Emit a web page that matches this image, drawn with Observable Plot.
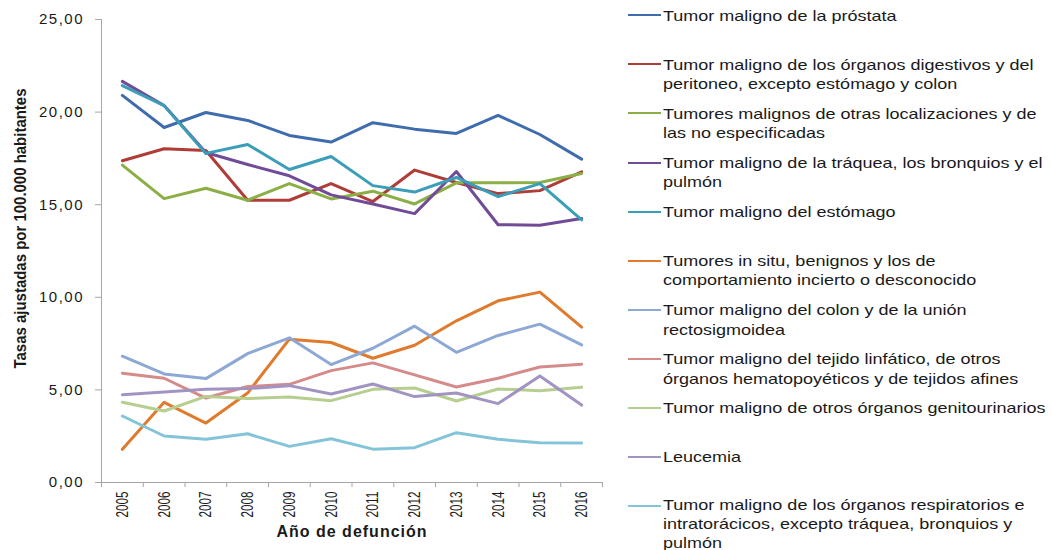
<!DOCTYPE html>
<html><head><meta charset="utf-8">
<script src="https://cdn.jsdelivr.net/npm/d3@7"></script>
<script src="https://cdn.jsdelivr.net/npm/@observablehq/plot@0.6"></script>
<style>
body{margin:0;background:#fff;font-family:"Liberation Sans",Arial,sans-serif;}
#wrap{position:relative;width:1052px;height:550px;overflow:hidden;background:#fff;}
#chart{position:absolute;left:0;top:0;}
#legend{position:absolute;left:628px;top:5.5px;}
.entry{position:relative;height:49.1px;}
.swatch{position:absolute;left:0;top:8.75px;width:33px;height:2px;}
.lab{position:absolute;left:35px;top:0;white-space:pre;font-size:15px;line-height:19.5px;color:#1a1a1a;transform:scaleX(1.2);transform-origin:0 0;}
.entry.last .lab{line-height:18.6px;}
g[aria-label="y-axis tick label"]{letter-spacing:1.5px;}
</style></head>
<body><div id="wrap"><div id="chart"></div><div id="legend"></div></div>
<script>
const years = [2005, 2006, 2007, 2008, 2009, 2010, 2011, 2012, 2013, 2014, 2015, 2016];
const seriesNames = [
  "Tumor maligno de la próstata",
  "Tumor maligno de los órganos digestivos y del\nperitoneo, excepto estómago y colon",
  "Tumores malignos de otras localizaciones y de\nlas no especificadas",
  "Tumor maligno de la tráquea, los bronquios y el\npulmón",
  "Tumor maligno del estómago",
  "Tumores in situ, benignos y los de\ncomportamiento incierto o desconocido",
  "Tumor maligno del colon y de la unión\nrectosigmoidea",
  "Tumor maligno del tejido linfático, de otros\nórganos hematopoyéticos y de tejidos afines",
  "Tumor maligno de otros órganos genitourinarios",
  "Leucemia",
  "Tumor maligno de los órganos respiratorios e\nintratorácicos, excepto tráquea, bronquios y\npulmón"
];
const seriesColors = ["#3f6cac", "#b03c38", "#8bae45", "#6f4b98", "#3a9eb8", "#e07a2c",
  "#8ea8d6", "#d48b8a", "#b6ce8f", "#a294c2", "#84c4d8"];

const prostata     = [20.90, 19.17, 19.98, 19.55, 18.74, 18.38, 19.43, 19.08, 18.85, 19.82, 18.79, 17.46];
const digestivos   = [17.37, 18.02, 17.93, 15.24, 15.24, 16.14, 15.17, 16.87, 16.20, 15.60, 15.76, 16.77];
const otrasLocal   = [17.14, 15.33, 15.89, 15.24, 16.14, 15.31, 15.73, 15.04, 16.18, 16.18, 16.20, 16.68];
const pulmon       = [21.66, 20.35, 17.82, 17.17, 16.56, 15.53, 15.04, 14.52, 16.79, 13.92, 13.89, 14.25];
const estomago     = [21.43, 20.35, 17.77, 18.25, 16.90, 17.60, 16.03, 15.68, 16.47, 15.44, 16.14, 14.18];
const inSitu       = [1.79, 4.33, 3.21, 4.83, 7.74, 7.56, 6.71, 7.41, 8.73, 9.81, 10.28, 8.39];
const colon        = [6.82, 5.86, 5.61, 6.96, 7.81, 6.37, 7.25, 8.44, 7.03, 7.94, 8.55, 7.43];
const linfatico    = [5.90, 5.63, 4.56, 5.18, 5.30, 6.04, 6.46, 5.81, 5.16, 5.63, 6.24, 6.39];
const genitourin   = [4.33, 3.86, 4.65, 4.53, 4.62, 4.42, 5.03, 5.10, 4.40, 5.05, 4.96, 5.14];
const leucemia     = [4.74, 4.89, 5.03, 5.07, 5.23, 4.78, 5.32, 4.64, 4.83, 4.26, 5.75, 4.18];
const respiratorio = [3.59, 2.51, 2.33, 2.63, 1.95, 2.36, 1.80, 1.88, 2.69, 2.33, 2.15, 2.13];

const seriesValues = [prostata, digestivos, otrasLocal, pulmon, estomago, inSitu, colon,
  linfatico, genitourin, leucemia, respiratorio];
const yTicks = [0, 5, 10, 15, 20, 25];
const yTitle = "Tasas ajustadas por 100.000 habitantes";
const xTitle = "Año de defunción";

const rows = [];
seriesNames.forEach((s, i) => years.forEach((y, j) => rows.push({series: s, year: y, value: seriesValues[i][j]})));

const x0 = years[0] - 0.5, x1 = years[years.length - 1] + 0.5;
const bounds = d3.range(x0, x1 + 0.001, 1);
const axisGray = "#a6a6a6";

const chart = Plot.plot({
  width: 615, height: 550,
  marginLeft: 101, marginRight: 13, marginTop: 19, marginBottom: 68,
  style: {fontFamily: "Liberation Sans, Arial, sans-serif", background: "transparent", overflow: "visible", color: "#1a1a1a"},
  x: {domain: [x0, x1]},
  y: {domain: [0, 25]},
  color: {domain: seriesNames, range: seriesColors},
  marks: [
    Plot.ruleX([x0], {stroke: axisGray}),
    Plot.ruleY([0], {stroke: axisGray}),
    Plot.axisY(yTicks, {tickSize: 6, tickPadding: 11.5, stroke: axisGray, fill: "#1a1a1a", fontSize: 15,
      tickFormat: d => d3.format(".2f")(d).replace(".", ","), label: null}),
    Plot.axisX(bounds, {tickSize: 5, stroke: axisGray, tickFormat: () => "", label: null}),
    Plot.axisX(years, {tickSize: 0, tickPadding: 9, tickRotate: -90, fontSize: 17, fill: "#1a1a1a",
      tickFormat: d => String(d), label: null}),
    Plot.line(rows, {x: "year", y: "value", z: "series", stroke: "series", strokeWidth: 3}),
    Plot.text([yTitle], {text: d => d, frameAnchor: "left", textAnchor: "middle", dx: -81, dy: -22.5, rotate: -90,
      fontSize: 16.5, fontWeight: "bold", fill: "#1a1a1a"}),
    Plot.text([xTitle], {text: d => d, frameAnchor: "bottom", dy: 49, lineAnchor: "middle",
      fontSize: 16, fontWeight: "bold", fill: "#1a1a1a"})
  ]
});
document.getElementById("chart").appendChild(chart);
const yearSet = new Set(years.map(String));
chart.querySelectorAll("text").forEach(t => {
  const s = t.textContent;
  if (s === xTitle) t.style.letterSpacing = "1px";
  if (s === yTitle) { t.setAttribute("textLength", "280"); t.setAttribute("lengthAdjust", "spacingAndGlyphs"); }
  if (yearSet.has(s)) { t.setAttribute("textLength", "26"); t.setAttribute("lengthAdjust", "spacingAndGlyphs"); }
});

const legend = d3.select("#legend");
seriesNames.forEach((s, i) => {
  const e = legend.append("div").attr("class", i === seriesNames.length - 1 ? "entry last" : "entry");
  e.append("div").attr("class", "swatch").style("background", seriesColors[i]);
  e.append("div").attr("class", "lab").text(s);
});
</script>
</body></html>
